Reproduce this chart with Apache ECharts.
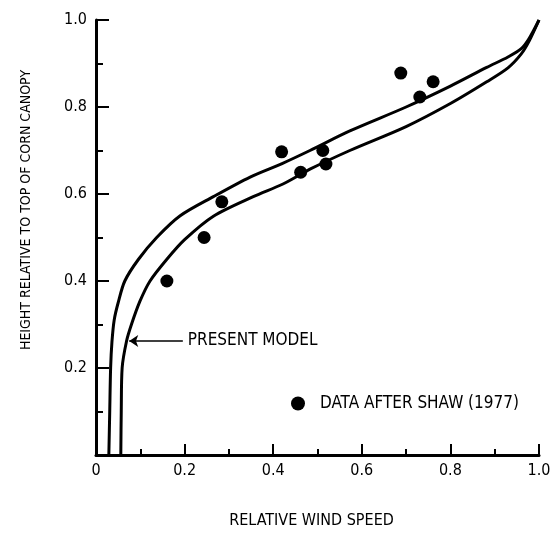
<!DOCTYPE html>
<html lang="en">
<head>
    <meta charset="UTF-8">
    <title>Relative wind speed in corn canopy</title>
    <script src="https://cdn.jsdelivr.net/npm/echarts@6/dist/echarts.min.js"></script>
</head>
<body style="margin: 0; background: #fff">
<div id="container" style="width: 557px; height: 534px"></div>
<script>
    // upper (left) model curve: [wind speed, height]
    var upperCurve = [
        [0.029, 0], [0.031, 0.1], [0.033, 0.2], [0.036, 0.26], [0.041, 0.31], [0.05, 0.35],
        [0.065, 0.40], [0.096, 0.45], [0.137, 0.50], [0.19, 0.55], [0.265, 0.594],
        [0.348, 0.639], [0.42, 0.67], [0.483, 0.70], [0.573, 0.745], [0.70, 0.80],
        [0.80, 0.848], [0.882, 0.891], [0.93, 0.915], [0.96, 0.934], [0.978, 0.958], [1.0, 1.0]
    ];
    // lower (right) model curve
    var lowerCurve = [
        [0.056, 0], [0.057, 0.1], [0.059, 0.2], [0.069, 0.262], [0.08, 0.30],
        [0.099, 0.353], [0.122, 0.40], [0.16, 0.45], [0.20, 0.495], [0.265, 0.549],
        [0.355, 0.594], [0.422, 0.623], [0.483, 0.657], [0.573, 0.70], [0.70, 0.755],
        [0.80, 0.808], [0.882, 0.858], [0.93, 0.89], [0.96, 0.922], [0.978, 0.952], [1.0, 1.0]
    ];
    // measured points (Shaw 1977)
    var shawData = [
        [0.16, 0.40], [0.244, 0.50], [0.284, 0.582], [0.419, 0.697], [0.462, 0.65],
        [0.512, 0.70], [0.519, 0.669], [0.688, 0.878], [0.731, 0.823], [0.761, 0.858]
    ];
    // arrow for the "PRESENT MODEL" note
    var arrowFrom = [0.196, 0.262];
    var arrowTo = [0.075, 0.262];

    var font = "'DejaVu Sans Condensed', 'Liberation Sans Narrow', sans-serif";

    var dom = document.getElementById("container");
    var myChart = echarts.init(dom);
    var option = {
        animation: false,
        textStyle: {fontFamily: font, color: '#000'},
        grid: {left: 96, right: 18, top: 20, bottom: 71},
        legend: {
            left: 291, top: 395, padding: 0,
            itemWidth: 14, itemHeight: 14,
            textStyle: {fontFamily: font, fontSize: 17, color: '#000', padding: [0, 0, 0, 10]},
            data: [{name: 'DATA AFTER SHAW (1977)', icon: 'circle'}]
        },
        xAxis: {
            type: 'value', min: 0, max: 1, interval: 0.2,
            name: 'RELATIVE WIND SPEED', nameLocation: 'middle', nameGap: 58,
            nameTextStyle: {fontFamily: font, fontSize: 16, color: '#000', padding: [0, 12, 0, 0]},
            axisLine: {lineStyle: {color: '#000', width: 3}},
            axisTick: {inside: true, length: 11, lineStyle: {color: '#000', width: 2}},
            minorTick: {show: true, splitNumber: 2, length: 6, lineStyle: {color: '#000', width: 2}},
            splitLine: {show: false},
            axisLabel: {
                fontFamily: font, fontSize: 16, color: '#000', margin: 8,
                formatter: function (v) { return v === 0 ? '0' : v.toFixed(1); }
            }
        },
        yAxis: {
            type: 'value', min: 0, max: 1, interval: 0.2,
            axisLine: {show: true, lineStyle: {color: '#000', width: 3}},
            axisTick: {show: true, inside: true, length: 13, lineStyle: {color: '#000', width: 2}},
            minorTick: {show: true, splitNumber: 2, length: 7, lineStyle: {color: '#000', width: 2}},
            splitLine: {show: false},
            axisLabel: {
                fontFamily: font, fontSize: 16, color: '#000', margin: 9,
                formatter: function (v) { return v === 0 ? '' : v.toFixed(1); }
            }
        },
        graphic: [{
            type: 'text', x: 26, y: 210, rotation: Math.PI / 2,
            style: {
                text: 'HEIGHT RELATIVE TO TOP OF CORN CANOPY',
                font: '14px ' + font, fill: '#000',
                textAlign: 'center', textVerticalAlign: 'middle'
            }
        }],
        series: [{
            type: 'line', data: upperCurve, smooth: 0.3, symbol: 'none',
            lineStyle: {color: '#000', width: 3}
        }, {
            type: 'line', data: lowerCurve, smooth: 0.3, symbol: 'none',
            lineStyle: {color: '#000', width: 3},
            markLine: {
                silent: true,
                symbol: ['none', 'arrow'],
                symbolSize: 9,
                lineStyle: {color: '#000', width: 1.5, type: 'solid'},
                label: {
                    show: true, position: 'start', distance: 5,
                    formatter: 'PRESENT MODEL',
                    fontFamily: font, fontSize: 17, color: '#000'
                },
                data: [[{coord: arrowFrom}, {coord: arrowTo}]]
            }
        }, {
            name: 'DATA AFTER SHAW (1977)',
            type: 'scatter', data: shawData, symbol: 'circle', symbolSize: 13,
            itemStyle: {color: '#000', opacity: 1}
        }]
    };
    myChart.setOption(option);
</script>
</body>
</html>
